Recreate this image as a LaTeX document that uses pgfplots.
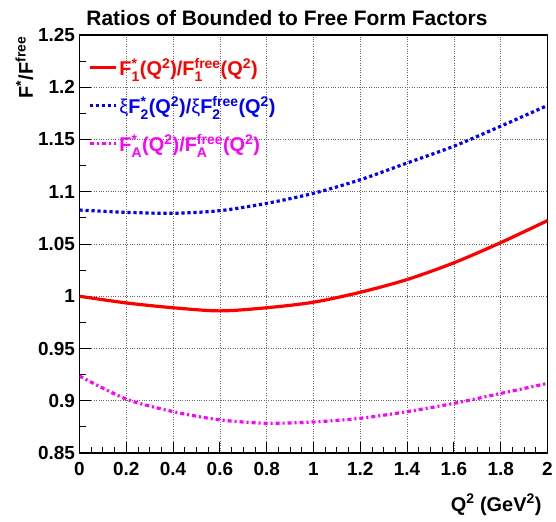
\documentclass[border=0pt]{standalone}
\usepackage{fontspec}
\setmainfont{Liberation Sans}
\usepackage{amsmath}
\usepackage{pgfplots}
\pgfplotsset{compat=1.18}
\definecolor{rred}{RGB}{255,0,0}
\definecolor{rblue}{RGB}{0,0,255}
\definecolor{rmag}{RGB}{255,0,255}
\newcommand\ff[3]{#1$^{\text{#2}}_{\text{#3}}$}
\newcommand\sq{$^{\text{2}}$}
\pgfplotstableread{
x y
0.0 1.0000
0.2 0.9936
0.4 0.9890
0.6 0.9860
0.8 0.9890
1.0 0.9943
1.2 1.0038
1.4 1.0160
1.6 1.0320
1.8 1.0513
2.0 1.0724
}\tabred
\pgfplotstableread{
x y
0.0 1.0825
0.2 1.0803
0.4 1.0794
0.6 1.0819
0.8 1.0889
1.0 1.0985
1.2 1.1115
1.4 1.1275
1.6 1.1436
1.8 1.1627
2.0 1.1826
}\tabblue
\pgfplotstableread{
x y
0.0 0.9237
0.2 0.9016
0.4 0.8896
0.6 0.8817
0.8 0.8785
1.0 0.8797
1.2 0.8832
1.4 0.8896
1.6 0.8975
1.8 0.9070
2.0 0.9166
}\tabmag
\begin{document}
\begin{tikzpicture}
\begin{axis}[
  at={(0,0)}, anchor=south west,
  scale only axis, width=468bp, height=418bp,
  xmin=0, xmax=2, ymin=0.85, ymax=1.25,
  xtick={0,0.2,...,2.01}, ytick={0.85,0.9,...,1.26},
  minor x tick num=3, minor y tick num=1,
  tick pos=left, tick align=inside,
  major tick length=11bp, minor tick length=6bp,
  axis line style={line width=1.4bp},
  every tick/.style={black, line width=1bp},
  grid=major,
  major grid style={black!60, dotted, line width=0.8bp},
  /pgf/number format/assume math mode=true,
  ticklabel style={font=\bfseries\fontsize{19}{22}\selectfont},
  xticklabel style={yshift=-6bp},
  yticklabel style={xshift=-1bp},
  legend style={at={(0.012,0.955)}, anchor=north west, draw=none, fill=none,
    font=\bfseries\fontsize{20}{22}\selectfont, row sep=15bp,
    /tikz/every even column/.append style={column sep=3bp}},
  legend cell align=left,
  legend image code/.code={\draw[#1] (0bp,0bp) -- (26bp,0bp);},
]
\addplot[rred, line width=3.2bp, smooth] table[x=x,y=y] {\tabred};
\addlegendentry{\textcolor{rred}{\ff{F}{*}{1}(Q\sq)/\ff{F}{free}{1}(Q\sq)}}
\addplot[rblue, line width=3.2bp, smooth, dash pattern=on 3.2bp off 2.8bp] table[x=x,y=y] {\tabblue};
\addlegendentry{\textcolor{rblue}{{\mdseries ξ}\ff{F}{*}{2}(Q\sq)/{\mdseries ξ}\ff{F}{free}{2}(Q\sq)}}
\addplot[rmag, line width=3.2bp, smooth, dash pattern=on 4bp off 3bp on 2bp off 3bp] table[x=x,y=y] {\tabmag};
\addlegendentry{\textcolor{rmag}{\ff{F}{*}{A}(Q\sq)/\ff{F}{free}{A}(Q\sq)}}
\end{axis}
\node[anchor=base, font=\bfseries\fontsize{21}{24}\selectfont] at (207.5bp,427bp) {Ratios of Bounded to Free Form Factors};
\node[anchor=base east, rotate=90, font=\bfseries\fontsize{20}{24}\selectfont] at (-46.5bp,420bp) {F$^{\text{*}}$/F$^{\text{free}}$};
\node[anchor=base east, font=\bfseries\fontsize{20}{24}\selectfont] at (465.5bp,-58bp) {Q\sq{} (GeV\sq)};
\pgfresetboundingbox
\path[use as bounding box] (-79.5bp,-69bp) rectangle (476.5bp,453bp);
\end{tikzpicture}
\end{document}
